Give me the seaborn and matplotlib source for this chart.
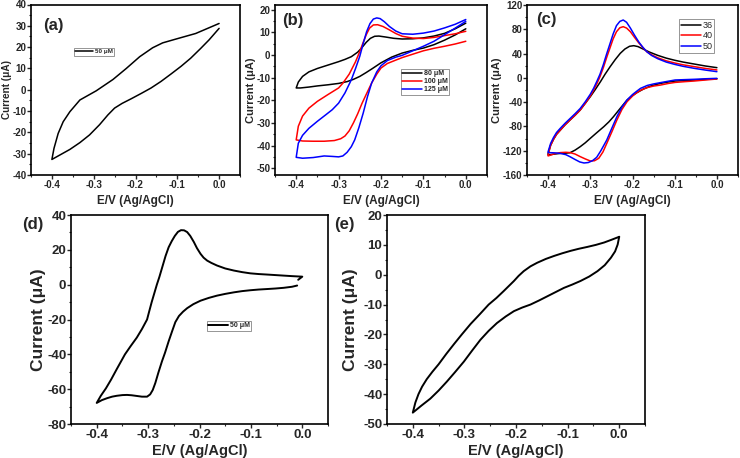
import numpy as np
import matplotlib
matplotlib.use("Agg")
import matplotlib.pyplot as plt
from matplotlib.ticker import MultipleLocator, FormatStrFormatter
import seaborn as sns

# ---- data (potential in V, current in uA) ----
# each voltammogram: branch from 0 V down to -0.4 V, then back to 0 V

# (a) 50 uM
a_up_v = [0.0, -0.056, -0.103, -0.135, -0.159, -0.19, -0.222, -0.254, -0.294, -0.333, -0.357, -0.373, -0.385, -0.395, -0.4]
a_up_i = [31.1, 26.4, 23.8, 22.0, 19.7, 15.5, 10.0, 4.8, -0.5, -4.8, -10.3, -15.0, -20.5, -27.5, -32.7]
a_dn_v = [-0.4, -0.357, -0.333, -0.31, -0.286, -0.266, -0.25, -0.232, -0.21, -0.187, -0.163, -0.139, -0.115, -0.091, -0.068, -0.044, -0.024, 0.0]
a_dn_i = [-32.7, -28.0, -24.8, -21.2, -16.4, -11.8, -8.6, -6.4, -4.2, -1.8, 0.8, 3.9, 7.4, 11.0, 14.8, 19.4, 23.4, 28.8]

# (b) 80, 100, 125 uM
b80_up_v = [0.0, -0.025, -0.05, -0.075, -0.1, -0.125, -0.15, -0.17, -0.19, -0.205, -0.215, -0.225, -0.235, -0.245, -0.255, -0.27, -0.285, -0.3, -0.325, -0.35, -0.37, -0.385, -0.395, -0.4]
b80_up_i = [14.0, 11.5, 9.5, 8.3, 7.5, 7.1, 7.0, 7.3, 7.9, 8.3, 8.2, 7.3, 5.5, 3.2, 1.2, -0.8, -2.0, -3.0, -4.5, -6.0, -7.5, -9.5, -12.0, -14.6]
b80_dn_v = [-0.4, -0.39, -0.37, -0.35, -0.325, -0.3, -0.28, -0.265, -0.25, -0.235, -0.22, -0.2, -0.175, -0.15, -0.125, -0.1, -0.075, -0.05, -0.025, 0.0]
b80_dn_i = [-14.6, -14.6, -14.2, -13.7, -13.2, -12.6, -11.8, -10.8, -9.5, -7.8, -6.0, -3.5, -1.0, 0.8, 2.0, 3.0, 4.5, 6.5, 8.8, 11.5]

b100_up_v = [0.0, -0.025, -0.05, -0.075, -0.1, -0.125, -0.15, -0.165, -0.18, -0.195, -0.208, -0.218, -0.227, -0.235, -0.243, -0.25, -0.26, -0.275, -0.29, -0.3, -0.325, -0.35, -0.37, -0.385, -0.395, -0.4]
b100_up_i = [10.4, 9.3, 8.5, 7.7, 7.2, 7.4, 8.2, 9.4, 11.0, 12.5, 13.3, 13.2, 11.8, 8.8, 5.0, 1.5, -3.0, -8.5, -12.5, -14.6, -17.5, -20.5, -23.5, -27.0, -31.5, -37.5]
b100_dn_v = [-0.4, -0.385, -0.36, -0.334, -0.31, -0.295, -0.285, -0.275, -0.265, -0.255, -0.245, -0.235, -0.222, -0.21, -0.2, -0.185, -0.165, -0.15, -0.125, -0.1, -0.075, -0.05, -0.025, 0.0]
b100_dn_i = [-37.5, -38.0, -38.1, -38.1, -37.8, -37.0, -35.8, -33.5, -30.0, -26.0, -21.5, -17.5, -12.4, -8.5, -5.8, -3.8, -2.3, -1.2, 0.3, 1.8, 2.9, 3.8, 4.8, 6.0]

b125_up_v = [0.0, -0.025, -0.05, -0.075, -0.1, -0.125, -0.15, -0.165, -0.18, -0.192, -0.202, -0.21, -0.218, -0.226, -0.234, -0.242, -0.25, -0.26, -0.27, -0.285, -0.3, -0.315, -0.33, -0.35, -0.37, -0.385, -0.395, -0.4]
b125_up_i = [15.6, 13.5, 11.9, 10.5, 9.6, 9.1, 9.3, 10.5, 12.5, 14.6, 16.0, 16.3, 15.8, 13.8, 10.2, 5.0, -0.6, -6.0, -11.0, -16.8, -21.3, -24.2, -26.4, -29.3, -32.4, -35.5, -39.0, -45.2]
b125_dn_v = [-0.4, -0.385, -0.36, -0.334, -0.315, -0.3, -0.29, -0.28, -0.27, -0.262, -0.252, -0.242, -0.232, -0.222, -0.21, -0.2, -0.185, -0.165, -0.15, -0.125, -0.1, -0.075, -0.05, -0.025, 0.0]
b125_dn_i = [-45.2, -45.6, -45.3, -44.6, -44.8, -45.0, -44.6, -43.0, -40.5, -37.5, -32.0, -25.7, -18.5, -12.4, -7.5, -4.8, -2.5, -1.0, -0.2, 1.8, 3.8, 6.0, 8.9, 11.8, 14.8]

# (c) 36, 40, 50
c_left_v = [-0.3, -0.312, -0.324, -0.336, -0.348, -0.36, -0.371, -0.38, -0.387, -0.394, -0.4]

c36_up_v = [0.0, -0.027, -0.054, -0.08, -0.1, -0.12, -0.14, -0.16, -0.175, -0.187, -0.197, -0.207, -0.218, -0.229, -0.241, -0.253, -0.265, -0.276, -0.288] + c_left_v
c36_up_i = [16.8, 19.5, 22.8, 26.0, 29.0, 32.5, 37.0, 42.5, 47.5, 51.5, 53.0, 52.0, 47.5, 40.4, 30.0, 18.4, 6.0, -6.4, -19.0,
            -31.0, -42.0, -53.0, -61.5, -69.4, -77.5, -86.0, -93.0, -101.0, -111.0, -125.0]
c36_dn_v = [-0.4, -0.385, -0.371, -0.358, -0.348, -0.336, -0.324, -0.312, -0.3, -0.285, -0.268, -0.256, -0.245, -0.23, -0.213, -0.2, -0.19, -0.173, -0.155, -0.134, -0.115, -0.099, -0.075, -0.054, -0.027, 0.0]
c36_dn_i = [-127.0, -125.5, -124.4, -124.0, -123.3, -119.0, -113.4, -107.0, -99.6, -90.5, -80.4, -72.5, -63.9, -51.0, -36.6, -29.0, -24.5, -18.0, -13.0, -9.1, -6.8, -5.3, -4.3, -3.6, -2.5, -1.5]

c40_up_v = [0.0, -0.027, -0.054, -0.08, -0.1, -0.12, -0.14, -0.155, -0.166, -0.175, -0.185, -0.195, -0.205, -0.214, -0.222, -0.23, -0.238, -0.246, -0.253, -0.261, -0.269, -0.277, -0.284, -0.292] + c_left_v
c40_up_i = [13.0, 15.5, 18.5, 21.5, 24.5, 28.0, 33.0, 38.0, 43.0, 49.5, 57.5, 66.5, 76.0, 82.0, 84.3, 82.5, 76.0, 64.0, 50.0, 34.0, 17.0, 2.0, -9.0, -20.0,
            -30.0, -42.0, -53.0, -61.5, -69.4, -77.5, -86.0, -93.0, -101.0, -111.0, -127.0]
c40_dn_v = [-0.4, -0.385, -0.371, -0.358, -0.348, -0.336, -0.324, -0.312, -0.3, -0.29, -0.28, -0.27, -0.261, -0.249, -0.237, -0.225, -0.213, -0.2, -0.19, -0.181, -0.165, -0.15, -0.134, -0.115, -0.099, -0.075, -0.054, -0.027, 0.0]
c40_dn_i = [-128.6, -125.0, -123.1, -122.6, -123.1, -125.5, -129.7, -133.5, -136.9, -136.5, -132.5, -122.0, -108.0, -89.0, -69.4, -52.0, -39.3, -30.0, -24.5, -20.5, -16.0, -13.5, -11.9, -9.2, -7.5, -6.2, -5.2, -3.5, -1.9]

c50_up_v = [0.0, -0.027, -0.054, -0.08, -0.1, -0.12, -0.14, -0.155, -0.166, -0.175, -0.185, -0.195, -0.205, -0.214, -0.222, -0.23, -0.238, -0.246, -0.253, -0.261, -0.269, -0.277, -0.284, -0.292] + c_left_v
c50_up_i = [10.2, 12.8, 15.7, 19.0, 22.2, 26.0, 31.5, 37.0, 43.0, 50.0, 59.0, 70.0, 82.0, 91.5, 95.3, 93.0, 86.0, 72.0, 57.0, 40.0, 22.0, 6.0, -5.0, -17.0,
            -27.0, -39.5, -50.5, -59.0, -67.0, -75.0, -83.0, -90.0, -98.0, -108.0, -121.6]
c50_dn_v = [-0.4, -0.385, -0.371, -0.358, -0.348, -0.336, -0.325, -0.315, -0.305, -0.295, -0.285, -0.275, -0.261, -0.249, -0.237, -0.225, -0.213, -0.2, -0.19, -0.181, -0.165, -0.15, -0.134, -0.115, -0.099, -0.075, -0.054, -0.027, 0.0]
c50_dn_i = [-123.1, -123.5, -124.4, -126.5, -129.9, -134.5, -138.5, -140.2, -139.5, -136.5, -131.0, -120.0, -102.4, -83.0, -64.0, -48.0, -36.5, -27.5, -22.0, -17.3, -12.5, -10.0, -7.9, -5.5, -3.5, -2.9, -2.4, -1.5, -0.8]

# (d) 50 uM
d_up_v = [-0.008, 0.0, -0.02, -0.036, -0.052, -0.068, -0.085, -0.101, -0.117, -0.133, -0.15, -0.166, -0.177, -0.185, -0.192, -0.198, -0.205, -0.211, -0.218, -0.224, -0.23, -0.236, -0.242, -0.248, -0.254, -0.26, -0.266, -0.272, -0.278, -0.283, -0.288, -0.293, -0.298, -0.302, -0.312, -0.322, -0.334, -0.345, -0.361, -0.372, -0.382, -0.392, -0.4]
d_up_i = [2.8, 4.6, 4.9, 5.2, 5.5, 5.8, 6.1, 6.5, 7.2, 8.1, 9.3, 11.0, 12.5, 13.8, 15.5, 17.7, 21.0, 24.5, 28.0, 30.2, 31.2, 31.3, 30.3, 28.0, 25.0, 21.5, 16.5, 10.5, 4.5, 0.0, -5.0, -10.0, -15.5, -20.0, -25.5, -30.4, -35.3, -40.0, -48.5, -54.5, -59.5, -63.8, -67.9]
d_dn_v = [-0.4, -0.39, -0.38, -0.37, -0.361, -0.35, -0.341, -0.332, -0.322, -0.312, -0.302, -0.296, -0.291, -0.286, -0.28, -0.273, -0.267, -0.26, -0.253, -0.247, -0.24, -0.232, -0.224, -0.212, -0.198, -0.182, -0.166, -0.15, -0.133, -0.117, -0.101, -0.085, -0.068, -0.052, -0.036, -0.02, -0.01]
d_dn_i = [-67.9, -66.3, -65.2, -64.3, -63.8, -63.4, -63.3, -63.5, -63.9, -64.3, -64.3, -63.0, -60.5, -56.5, -50.5, -44.0, -39.0, -32.5, -26.5, -21.5, -18.0, -15.5, -13.5, -11.2, -9.2, -7.6, -6.3, -5.3, -4.4, -3.7, -3.2, -2.8, -2.5, -2.2, -1.8, -1.2, -0.5]

# (e)
e_up_v = [0.0, -0.015, -0.029, -0.045, -0.062, -0.078, -0.094, -0.11, -0.126, -0.142, -0.159, -0.172, -0.185, -0.195, -0.204, -0.214, -0.224, -0.238, -0.253, -0.27, -0.288, -0.305, -0.32, -0.335, -0.35, -0.362, -0.373, -0.382, -0.389, -0.395, -0.4]
e_up_i = [12.7, 11.7, 10.8, 10.0, 9.3, 8.7, 8.0, 7.2, 6.3, 5.3, 4.0, 2.8, 1.2, -0.4, -2.1, -3.8, -5.5, -7.8, -10.0, -13.2, -16.5, -20.0, -23.2, -26.5, -30.0, -32.5, -35.0, -37.5, -40.0, -42.8, -46.2]
e_dn_v = [-0.4, -0.383, -0.366, -0.35, -0.334, -0.318, -0.301, -0.285, -0.269, -0.253, -0.237, -0.22, -0.204, -0.188, -0.172, -0.155, -0.139, -0.123, -0.107, -0.091, -0.075, -0.058, -0.042, -0.028, -0.016, -0.008, -0.003, 0.0]
e_dn_i = [-46.2, -43.8, -41.5, -38.8, -35.8, -32.6, -29.1, -25.4, -21.8, -18.8, -16.2, -14.0, -12.2, -11.0, -10.0, -8.6, -7.2, -5.8, -4.4, -3.3, -2.1, -0.6, 1.2, 3.2, 5.7, 7.8, 10.1, 12.7]

# ---- style ----
sns.set_style("ticks")
plt.rcParams["font.family"] = ["Liberation Sans", "DejaVu Sans"]
plt.rcParams["font.weight"] = "bold"
plt.rcParams["axes.labelweight"] = "bold"
plt.rcParams["axes.unicode_minus"] = False

W, H = 740, 458
fig = plt.figure(figsize=(W / 100, H / 100), dpi=100)


def add_ax(x0, y0, x1, y1):
    # pixel box (top-left origin) -> figure fraction
    return fig.add_axes([x0 / W, 1 - y1 / H, (x1 - x0) / W, (y1 - y0) / H])


def cv(ax, up_v, up_i, dn_v, dn_i, color, lw, label=None):
    v = np.concatenate([up_v, dn_v])
    i = np.concatenate([up_i, dn_i])
    sns.lineplot(x=v, y=i, sort=False, estimator=None, color=color, lw=lw,
                 label=label, ax=ax)


def style(ax, ylim, ystep, tsize, xsize, ysize, ylab_x, xpad):
    ax.set_xlim(-0.45, 0.05)
    ax.set_ylim(*ylim)
    ax.xaxis.set_major_locator(MultipleLocator(0.1))
    ax.xaxis.set_minor_locator(MultipleLocator(0.05))
    ax.yaxis.set_major_locator(MultipleLocator(ystep))
    ax.yaxis.set_minor_locator(MultipleLocator(ystep / 2))
    ax.tick_params(which="major", direction="out", length=2.8, width=1,
                   labelsize=tsize, pad=0.6)
    ax.tick_params(which="minor", direction="out", length=1.6, width=0.8)
    ax.xaxis.set_major_formatter(FormatStrFormatter("%.1f"))
    for sp in ax.spines.values():
        sp.set_visible(True)
        sp.set_linewidth(1.2)
        sp.set_color("black")
    ax.set_xlabel("E/V (Ag/AgCl)", fontsize=xsize, fontweight="bold", labelpad=xpad)
    ax.set_ylabel("Current (μA)", fontsize=ysize, fontweight="bold")
    ax.yaxis.set_label_coords(ylab_x, 0.5)


def leg(ax, x, y, size, bold=True, hl=2.8, tp=0.3):
    lg = ax.legend(loc="upper left", bbox_to_anchor=(x, y),
                   frameon=True, fancybox=False, edgecolor="#666666",
                   handlelength=hl, handletextpad=tp, borderpad=0.2,
                   labelspacing=0.15, borderaxespad=0,
                   prop={"size": size, "weight": "bold" if bold else "normal"})
    lg.get_frame().set_linewidth(0.6)


RED = "#ff0000"
BLUE = "#0000ff"
BLK = "#000000"

# (a)
ax = add_ax(31, 4.5, 240, 175)
cv(ax, a_up_v, a_up_i, a_dn_v, a_dn_i, BLK, 1.1, "50 μM")
style(ax, (-40, 40), 10, 7, 8.5, 7.2, (11.8 - 31) / 209, 3.5)
leg(ax, 0.206, 0.747, 4.5)
ax.text(0.057, 0.877, "(a)", transform=ax.transAxes, fontsize=12,
        fontweight="bold", ha="left", va="center")

# (b)
ax = add_ax(275, 5, 487, 175)
cv(ax, b80_up_v, b80_up_i, b80_dn_v, b80_dn_i, BLK, 1.1, "80 μM")
cv(ax, b100_up_v, b100_up_i, b100_dn_v, b100_dn_i, RED, 1.1, "100 μM")
cv(ax, b125_up_v, b125_up_i, b125_dn_v, b125_dn_i, BLUE, 1.1, "125 μM")
style(ax, (-53, 22), 10, 7, 8.5, 8, (255.5 - 275) / 212, 3.5)
leg(ax, 0.593, 0.624, 5)
ax.text(0.033, 0.906, "(b)", transform=ax.transAxes, fontsize=12,
        fontweight="bold", ha="left", va="center")

# (c)
ax = add_ax(527, 5, 738, 175)
cv(ax, c36_up_v, c36_up_i, c36_dn_v, c36_dn_i, BLK, 1.1, "36")
cv(ax, c40_up_v, c40_up_i, c40_dn_v, c40_dn_i, RED, 1.1, "40")
cv(ax, c50_up_v, c50_up_i, c50_dn_v, c50_dn_i, BLUE, 1.1, "50")
style(ax, (-160, 120), 40, 7, 8.5, 8, (502 - 527) / 211, 3.5)
leg(ax, 0.720, 0.916, 6.5, bold=False, hl=2.3, tp=0.1)
ax.text(0.043, 0.912, "(c)", transform=ax.transAxes, fontsize=12,
        fontweight="bold", ha="left", va="center")

# (d)
ax = add_ax(71, 215, 328, 424)
cv(ax, d_up_v, d_up_i, d_dn_v, d_dn_i, BLK, 1.4, "50 μM")
style(ax, (-80, 40), 20, 9.5, 10.5, 12.5, (46 - 71) / 257, 2)
leg(ax, 0.529, 0.494, 5)
fig.text(33 / W, 1 - 224 / H, "(d)", fontsize=12, fontweight="bold",
         ha="center", va="center")

# (e)
ax = add_ax(387, 215, 645, 424)
cv(ax, e_up_v, e_up_i, e_dn_v, e_dn_i, BLK, 1.4)
style(ax, (-50, 20), 10, 9.5, 10.5, 12.5, (358 - 387) / 258, 2)
fig.text(344 / W, 1 - 225 / H, "(e)", fontsize=12, fontweight="bold",
         ha="center", va="center")

fig.savefig("out.png", dpi=100)
